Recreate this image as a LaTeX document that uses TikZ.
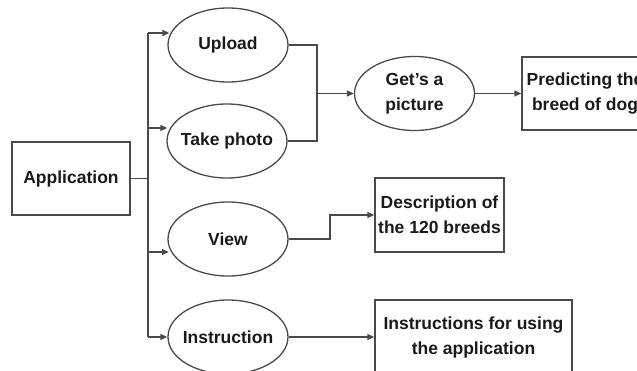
\documentclass[tikz,border=0pt]{standalone}
\usepackage{fontspec}
\setmainfont{Liberation Sans}
\usetikzlibrary{shapes.geometric,arrows.meta}
\definecolor{linec}{HTML}{4A4A4A}
\definecolor{textc}{HTML}{1A1A1A}
\tikzset{
  x=1pt,y=-1pt,
  txt/.style={font=\bfseries\fontsize{17.5}{25}\selectfont,text=textc,align=center},
  oval/.style={ellipse,draw=linec,line width=1.3pt,minimum width=120pt,minimum height=74pt,inner sep=0pt},
  boxn/.style={txt,rectangle,draw=linec,line width=1.3pt,inner sep=0pt},
  wire/.style={draw=linec,line width=1.3pt},
  arr/.style={wire,-{Triangle[length=7pt,width=6pt]}}
}
\begin{document}
\begin{tikzpicture}
\useasboundingbox (0,0) rectangle (637,370);
\clip (0,0) rectangle (637,370);
% nodes
\node[boxn,minimum width=118pt,minimum height=73pt] (app) at (71,178.5) {Application};
\node[oval] (up) at (228,45) {};
\node[txt] (upt) at (up) {Upload};
\node[oval] (tp) at (227,141) {};
\node[txt] (tpt) at (tp) {Take photo};
\node[oval] (vw) at (228,239) {};
\node[txt] (vwt) at (vw) {View};
\node[oval] (ins) at (228,337) {};
\node[txt] (inst) at (ins) {Instruction};
\node[oval] (get) at (414.5,93.5) {};
\node[txt] (gett) at (get) {Get’s a\\picture};
\node[boxn,minimum width=126pt,minimum height=73pt] (pred) at (585,93.5) {Predicting the\\breed of dog};
\node[boxn,minimum width=129pt,minimum height=74pt] (desc) at (439.5,215) {Description of\\the 120 breeds};
\node[boxn,minimum width=197pt,minimum height=80pt] (instr) at (473.5,340) {};
\node[txt] (instrt) at (473.5,337) {Instructions for using\\the application};
% trunk
\coordinate (tr) at (148,178.5);
\coordinate (ttop) at (148,33);
\coordinate (tbot) at (148,337);
\draw[wire] (app.east) -- (tr);
\draw[wire] (ttop) -- (tbot);
\draw[arr] (ttop) -- ([xshift=2pt]up.west |- ttop);
\coordinate (t2) at (148,128);
\draw[arr] (t2) -- ([xshift=1pt]tp.west |- t2);
\coordinate (t3) at (148,252);
\draw[arr] (t3) -- ([xshift=1.5pt]vw.west |- t3);
\draw[arr] (tbot) -- (ins.west);
% merge
\coordinate (mj) at (317,93.5);
\draw[wire] (up.east) -| (mj);
\draw[wire] (tp.east) -| (mj);
\draw[arr] (mj) -- (get.west);
\draw[arr] (get.east) -- (pred.west);
% view
\coordinate (vj) at (330,239);
\draw[arr] (vw.east) -- (vj) |- (desc.west);
% instruction
\draw[arr] (ins.east) -- (instr.west |- ins.east);
\end{tikzpicture}
\end{document}
